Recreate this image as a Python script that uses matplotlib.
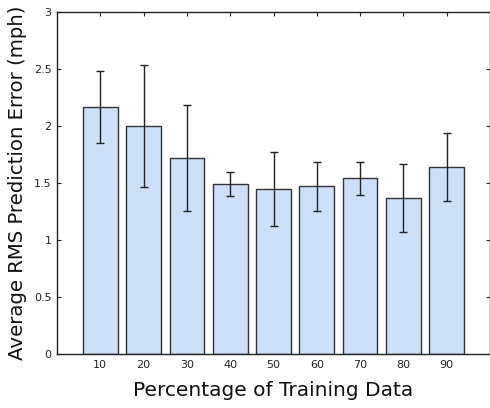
import matplotlib
matplotlib.use("Agg")
import matplotlib.pyplot as plt

# percentage of training data vs average RMS error (mph)
pct = [10, 20, 30, 40, 50, 60, 70, 80, 90]
rms_mean = [2.17, 2.00, 1.72, 1.49, 1.45, 1.47, 1.54, 1.37, 1.64]
rms_err = [0.315, 0.535, 0.465, 0.108, 0.325, 0.215, 0.147, 0.30, 0.298]
y_ticks = [0, 0.5, 1, 1.5, 2, 2.5, 3]
y_tick_labels = ["0", "0.5", "1", "1.5", "2", "2.5", "3"]


def main() -> None:
    fig = plt.figure(figsize=(4.9, 4.08), dpi=100)
    ax = fig.add_axes([57 / 490, 1 - 354 / 408, 433 / 490, 342 / 408])

    ax.bar(pct, rms_mean, width=8, color="#cde0f7", edgecolor="#333333",
           linewidth=1.0, zorder=2)
    ax.errorbar(pct, rms_mean, yerr=rms_err, fmt="none", ecolor="#222222",
                elinewidth=1.0, capsize=2.8, capthick=1.0, zorder=3)

    ax.set_xlim(0, 100)
    ax.set_ylim(0, 3)
    ax.set_xticks(pct)
    ax.set_xticklabels([str(p) for p in pct])
    ax.set_yticks(y_ticks)
    ax.set_yticklabels(y_tick_labels)
    ax.tick_params(direction="in", top=True, right=True, length=3,
                   labelsize=8, colors="#222222", pad=4)
    for side in ax.spines.values():
        side.set_color("#222222")
        side.set_linewidth(1.0)

    ax.set_xlabel("Percentage of Training Data", fontsize=14.5, labelpad=8,
                  color="#111111")
    ax.set_ylabel("Average RMS Prediction Error (mph)", fontsize=14.2,
                  labelpad=5, color="#111111")

    fig.savefig("out.png", dpi=100)
    plt.close(fig)


if __name__ == "__main__":
    main()
